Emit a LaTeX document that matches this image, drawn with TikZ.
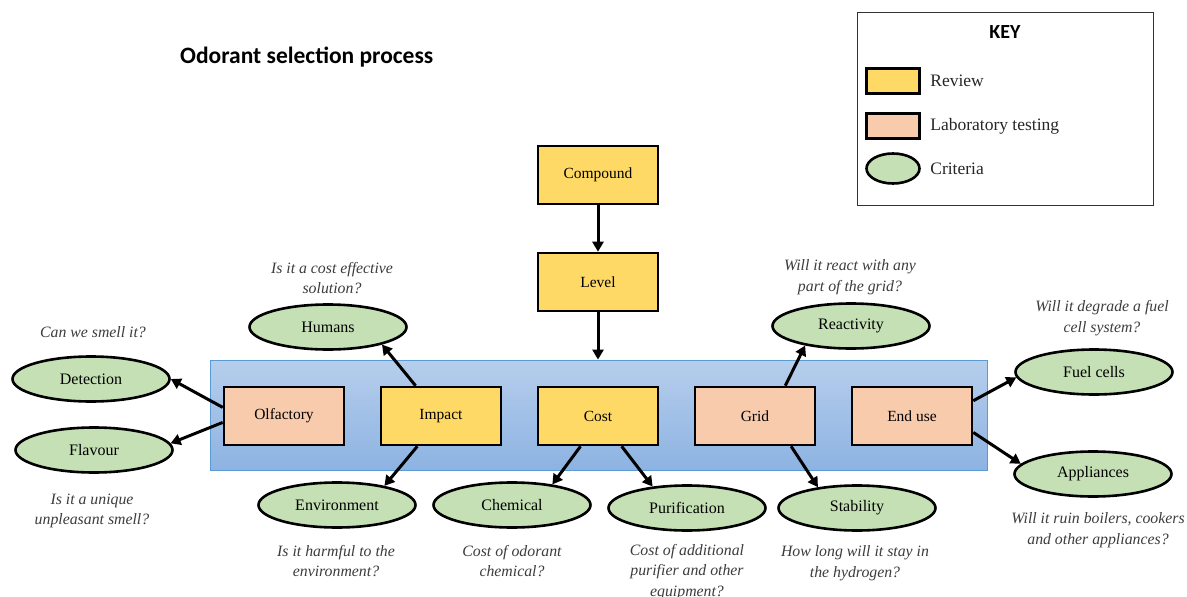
\documentclass[tikz,border=0pt]{standalone}
\usepackage{fontspec}
\setmainfont{Liberation Serif}
\newfontfamily\calibri{Carlito}
\usepackage{tikz}
\usetikzlibrary{arrows.meta, positioning, shapes.geometric}

\definecolor{reviewcol}{RGB}{255,217,102}
\definecolor{labcol}{RGB}{248,203,173}
\definecolor{critcol}{RGB}{197,224,180}
\definecolor{bandtop}{RGB}{182,206,236}
\definecolor{bandbot}{RGB}{141,179,226}
\definecolor{bandline}{RGB}{91,155,213}
\definecolor{qcol}{RGB}{60,60,60}

\begin{document}
\begin{tikzpicture}[
  x=1pt, y=-1pt,
  review/.style = {draw, line width=2.6pt, fill=reviewcol, minimum width=120pt, minimum height=58pt,
                   font=\fontsize{15.5}{18}\selectfont},
  lab/.style    = {review, fill=labcol},
  crit/.style   = {draw, ellipse, line width=2.6pt, fill=critcol, minimum width=157pt, minimum height=45pt,
                   font=\fontsize{16}{19}\selectfont},
  quest/.style  = {align=center, text=qcol, font=\fontsize{15.8}{20.5}\selectfont\itshape},
  keytext/.style = {right=6pt, font=\fontsize{17.5}{20}\selectfont, text=black!85},
  arrow/.style  = {line width=3pt, -{Triangle[length=10pt, width=11pt]}}
]
  \useasboundingbox (0,0) rectangle (1187,597);

  % Title
  \node[anchor=west, inner sep=0pt, font=\calibri\bfseries\fontsize{23.5}{28}\selectfont] (title) at (180,57) {Odorant selection process};

  % Key
  \node[draw=black!80, line width=0.8pt, minimum width=296pt, minimum height=193pt] (keybox) at (1005,108.5) {};
  \node[font=\calibri\bfseries\fontsize{20}{24}\selectfont] (keyhead) at (1005,32) {KEY};
  \node[review, minimum width=53pt, minimum height=25pt] (krev) at (893,81) {};
  \node[keytext] at (krev.east) {Review};
  \node[lab, minimum width=53pt, minimum height=25pt] (klab) at (893,126) {};
  \node[keytext] at (klab.east) {Laboratory testing};
  \node[crit, minimum width=53pt, minimum height=30pt] (kcrit) at (893,168.5) {};
  \node[keytext] at (kcrit.east) {Criteria};

  % Blue band behind the stages
  \node[draw=bandline, line width=0.8pt, top color=bandtop, bottom color=bandbot,
        minimum width=777pt, minimum height=110pt] (band) at (598.5,415) {};

  % Top chain
  \node[review] (comp) at (598,175) {Compound};
  \node[review] (lev) at (598,282) {Level};
  \draw[arrow] (comp.south) -- (lev.north);
  \draw[arrow] (lev.south) -- (lev.south |- band.north);

  % Stages
  \node[lab]    (olf)    at (284,416) {Olfactory};
  \node[review] (imp)    at (441,416) {Impact};
  \node[review] (cost)   at (598,416) {Cost};
  \node[lab]    (grid)   at (755,416) {Grid};
  \node[lab]    (enduse) at (912,416) {End use};

  % Criteria
  \node[crit] (det)   at (91,379)   {Detection};
  \node[crit] (flav)  at (94,450)   {Flavour};
  \node[crit] (hum)   at (328,327)  {Humans};
  \node[crit] (env)   at (337,505)  {Environment};
  \node[crit] (chem)  at (512,505)  {Chemical};
  \node[crit] (pur)   at (687,508)  {Purification};
  \node[crit] (stab)  at (857,508)  {Stability};
  \node[crit] (react) at (851,326)  {Reactivity};
  \node[crit] (fuel)  at (1094,372) {Fuel cells};
  \node[crit] (appl)  at (1093,474) {Appliances};

  % Questions
  \node[quest] (qdet)   at (93,332)   {Can we smell it?};
  \node[quest] (qflav)  at (92,511)   {Is it a unique\\unpleasant smell?};
  \node[quest] (qhum)   at (332,278)  {Is it a cost effective\\solution?};
  \node[quest] (qenv)   at (336,561)  {Is it harmful to the\\environment?};
  \node[quest] (qchem)  at (512,561)  {Cost of odorant\\chemical?};
  \node[quest] (qpur)   at (687,572)  {Cost of additional\\purifier and other\\equipment?};
  \node[quest] (qstab)  at (855,563)  {How long will it stay in\\the hydrogen?};
  \node[quest] (qreact) at (850,277)  {Will it react with any\\part of the grid?};
  \node[quest] (qfuel)  at (1102,318) {Will it degrade a fuel\\cell system?};
  \node[quest] (qappl)  at (1098,530) {Will it ruin boilers, cookers\\and other appliances?};

  % Stage -> criteria
  \draw[arrow] (olf.172) -- (det.0);
  \draw[arrow] (olf.186) -- (flav.5);
  \draw[arrow] (imp.130) -- (hum.-18);
  \draw[arrow] (imp.232) -- (env.22);
  \draw[arrow] (cost.240) -- (chem.27);
  \draw[arrow] (cost.308) -- (pur.148);
  \draw[arrow] (grid.45) -- (react.203);
  \draw[arrow] (grid.320) -- (stab.152);
  \draw[arrow] (enduse.14) -- (fuel.184);
  \draw[arrow] (enduse.-15) -- (appl.172);

\end{tikzpicture}
\end{document}
